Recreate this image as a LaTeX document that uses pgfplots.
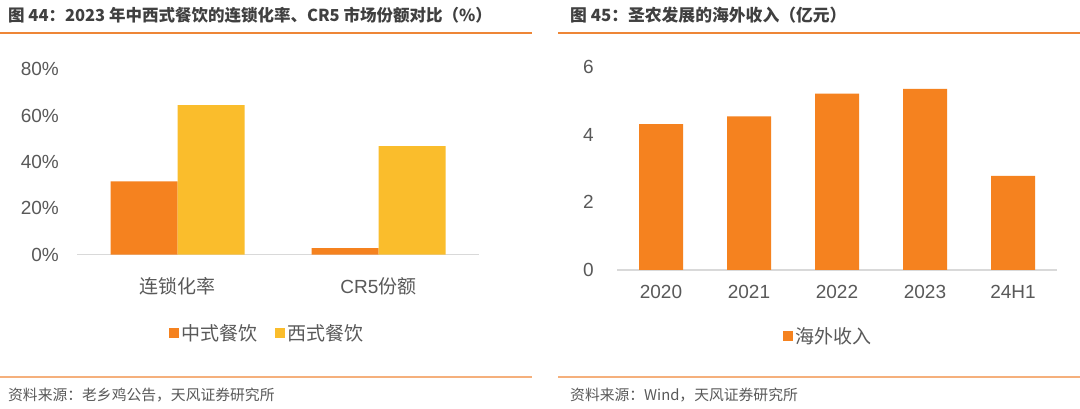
\documentclass[border=0pt]{standalone}
\usepackage{pgfplots}
\pgfplotsset{compat=1.18}
\usepackage{fontspec}
\setmainfont{Liberation Sans}
\newfontfamily\cjk{Noto Sans CJK SC}

\definecolor{orn}{HTML}{F5821F}
\definecolor{yel}{HTML}{FABD2C}
\definecolor{txt}{HTML}{595959}
\definecolor{ttl}{HTML}{404040}
\definecolor{rulea}{HTML}{EE8636}
\definecolor{ruleb}{HTML}{F5B07C}
\definecolor{base}{HTML}{D9D9D9}

\pgfplotsset{
  panel/.style={
    scale only axis,
    anchor=south west,
    ybar, ybar=0pt,
    axis x line*=bottom, axis y line*=left,
    x axis line style={base, line width=1.5pt, -},
    y axis line style={draw=none},
    major tick length=0pt,
    tick style={draw=none},
    ticklabel style={text=txt, font=\fontsize{19}{22}\selectfont},
    /pgf/number format/assume math mode=true,
    xtick=data,
    xticklabel style={anchor=center, inner sep=0pt},
    yticklabel style={anchor=east, inner sep=0pt},
    ymin=0,
    legend style={draw=none, fill=none, text=txt,
      font=\fontsize{19}{22}\selectfont,
      nodes={inner ysep=0pt, inner xsep=2.5pt}},
    legend image code/.code={\fill[##1] (0pt,-5pt) rectangle (10pt,5pt);},
  }
}

\begin{document}
\begin{tikzpicture}
\path[use as bounding box, fill=white] (0pt,0pt) rectangle (1080pt,409pt);

% rules
\draw[rulea, line width=1.5pt] (0pt,376pt) -- (532pt,376pt);
\draw[rulea, line width=1.5pt] (558pt,376pt) -- (1080pt,376pt);
\draw[ruleb, line width=1.5pt] (0pt,32pt) -- (532pt,32pt);
\draw[ruleb, line width=1.5pt] (558pt,32pt) -- (1080pt,32pt);

% titles and sources
\node[anchor=west, inner sep=0pt, text=ttl, font=\cjk\bfseries\fontsize{16.5}{20}\selectfont]
  at (8pt,393.5pt) {图 44：2023 年中西式餐饮的连锁化率、CR5 市场份额对比（\%）};
\node[anchor=west, inner sep=0pt, text=ttl, font=\cjk\bfseries\fontsize{16.8}{20}\selectfont]
  at (570pt,393.5pt) {图 45：圣农发展的海外收入（亿元）};
\node[anchor=west, inner sep=0pt, text=txt, font=\cjk\fontsize{14.8}{18}\selectfont]
  at (8pt,14pt) {资料来源：老乡鸡公告，天风证券研究所};
\node[anchor=west, inner sep=0pt, text=txt, font=\cjk\fontsize{14.8}{18}\selectfont]
  at (570pt,14pt) {资料来源：Wind，天风证券研究所};

% left panel
\begin{axis}[panel,
  at={(77pt,154.3pt)},
  width=402pt, height=185.3pt,
  bar width=67pt,
  xmin=-0.5, xmax=1.5, ymax=80,
  ytick={0,20,40,60,80},
  yticklabels={0\%,20\%,40\%,60\%,80\%},
  xticklabels={{\cjk 连锁化率},{CR5\cjk 份额}},
  xticklabel style={yshift=-32pt},
  yticklabel style={xshift=-18pt},
  legend columns=2,
  legend style={at={(0.474,-0.4226)}, anchor=center},
]
\addplot[fill=orn, draw=none] coordinates {(0,31.7) (1,2.8)};
\addlegendentry{\cjk 中式餐饮\hspace*{15pt}}
\addplot[fill=yel, draw=none] coordinates {(0,64.6) (1,46.9)};
\addlegendentry{\cjk 西式餐饮}
\end{axis}

% right panel
\begin{axis}[panel,
  at={(617pt,139pt)},
  width=440pt, height=203pt,
  bar width=44pt,
  xmin=-0.5, xmax=4.5, ymax=6,
  ytick={0,2,4,6},
  xticklabels={2020,2021,2022,2023,24H1},
  xticklabel style={yshift=-22pt},
  yticklabel style={xshift=-23pt},
  legend style={at={(0.4807,-0.325)}, anchor=center},
]
\addplot[fill=orn, draw=none] coordinates {(0,4.31) (1,4.54) (2,5.21) (3,5.35) (4,2.78)};
\addlegendentry{\cjk 海外收入}
\end{axis}
\end{tikzpicture}
\end{document}
